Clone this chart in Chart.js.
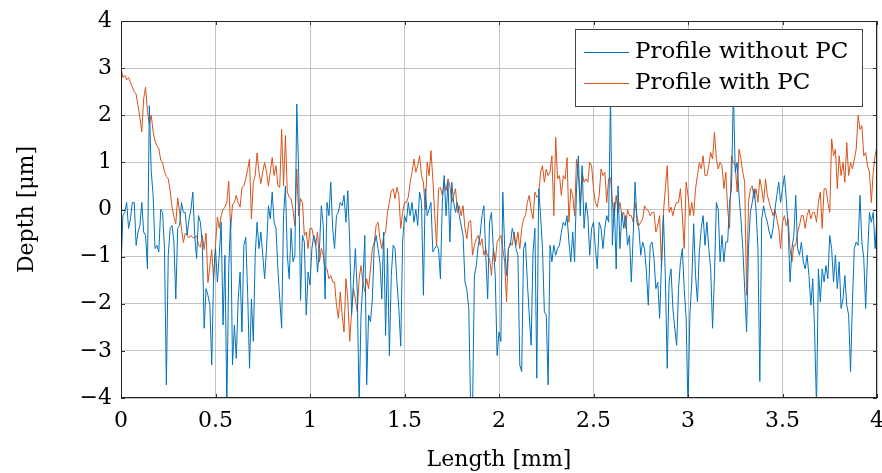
<!DOCTYPE html>
<html>
<head>
<meta charset="utf-8">
<script src="https://cdn.jsdelivr.net/npm/chart.js@4"></script>
<style>
html, body { margin: 0; padding: 0; background: #fff; }
</style>
</head>
<body>
<canvas id="profile_plot" width="882" height="473"></canvas>
<script>
// sampling of the profile along the length axis
var lengthStart = 0;
var lengthStep = 0.01;

// depth [um] without phase correction
var withoutPC = [
    -1.26, -0.13, -0.06, 0.15, -0.4, -0.2, 0.15, 0.15, -0.76, -0.48, -0.34,
    0.15, -0.48, -0.55, -1.26, 2.2, 0.8, 0.3, -0.83, -0.76, -0.9,
    0.0, -0.06, -0.83, -3.72, -0.97, -0.4, -0.34, -0.69, -1.9, -0.4,
    -0.34, 0.15, -0.06, -0.06, -0.55, -0.2, 0.0, 0.37, -0.55, -1.04,
    -0.13, -0.27, -0.7, -2.52, -1.68, -1.82, -2.03, -3.3, -1.4, -0.83,
    -1.54, -0.97, -0.27, -2.45, -0.97, -4.2, -1.26, -0.2, -3.3, -2.45,
    -3.16, -1.9, -1.33, -2.6, -0.76, -0.59, -1.75, -3.37, -1.9, -2.8,
    -0.97, -0.27, -0.83, -0.48, -0.97, -1.47, -0.83, 0.08, -0.2, 0.37,
    -0.27, -0.4, -1.26, -1.9, -2.52, -0.13, 0.5, -0.97, -1.47, -0.4,
    -1.11, -0.97, 2.24, 0.79, -1.93, -0.55, -0.69, -2.24, -1.33, -1.6,
    -0.83, -0.55, -0.69, -1.33, -0.83, 0.08, -0.34, -1.9, 0.15, -0.13,
    0.58, -0.4, -0.83, -0.13, -0.06, 0.15, 0.08, 0.3, -0.27, 0.4,
    -0.69, -2.24, -1.54, -0.83, -1.75, -4.2, -2.24, -1.54, -0.55, -3.72,
    -2.24, -2.38, -1.9, -0.76, -0.55, -0.83, -1.11, -1.9, -0.48, -2.67,
    -0.83, -3.1, -1.4, -0.76, -0.83, -1.54, -2.1, -2.9, -0.69, -0.13,
    -0.27, 0.15, -0.13, 0.15, -0.27, 0.0, -0.34, 0.37, 0.15, -1.82,
    0.44, -0.13, 0.0, 0.15, -0.9, -0.83, -0.76, -0.83, -1.47, 0.15,
    0.72, -0.13, 0.58, -0.69, 0.58, 0.15, -0.06, 0.15, -0.13, -0.34,
    -0.55, -1.54, -1.7, -2.1, -4.2, -4.2, -1.4, -1.19, -0.76, -0.55,
    -0.13, 0.08, -0.97, -1.9, -0.27, -0.06, -0.83, -1.4, -3.1, -2.6,
    -2.8, 0.37, -0.8, -1.4, -0.83, -0.76, -0.4, -0.55, -0.83, -0.97,
    -3.3, -3.44, -0.83, -0.69, -1.54, -2.24, -2.88, -0.9, -0.4, -3.58,
    0.44, -0.13, -0.83, -2.17, -2.24, -3.72, -0.76, -1.11, -0.76, -0.97,
    -0.83, -0.76, -0.48, -0.27, -0.34, -0.13, -0.69, -1.11, -0.48, -1.11,
    0.44, 1.14, -0.13, 0.93, -0.4, 0.15, -0.13, -0.97, -0.4, -0.27,
    -0.83, -1.26, -0.27, -0.4, -0.83, -0.4, -0.13, -0.27, 2.4, -0.76,
    0.15, -1.26, 0.5, -0.83, -0.06, -0.4, -0.13, -0.76, -0.55, -1.54,
    -0.55, 0.58, -0.27, -0.4, -0.97, -0.69, -0.83, -1.33, -2.03, -0.76,
    -0.69, -1.04, -1.68, -1.54, -2.31, -1.11, -0.13, -1.4, -3.37, -1.54,
    -1.26, -2.1, -2.52, -2.88, -1.68, -1.11, -0.83, -1.68, -2.3, -4.2,
    -2.24, -1.54, -0.3, -1.4, -1.96, -0.9, -0.4, -0.13, -0.76, -0.27,
    -0.83, -1.26, -2.52, -1.4, 0.15, 0.0, -1.11, -0.55, -1.11, -0.69,
    -0.69, 0.15, 0.44, 2.5, 0.79, 1.0, 0.3, -0.2, -0.83, -1.68,
    -2.6, -0.83, -0.06, 0.15, 0.44, 0.0, -0.83, -3.65, -0.2, 0.08,
    -0.13, -0.27, -0.48, -0.62, -0.4, 0.0, 0.3, 0.58, 0.15, 0.44,
    0.72, 0.23, -0.4, -1.54, -0.83, -0.55, 0.3, -0.83, -0.97, -0.69,
    -1.11, -1.26, -0.97, -1.4, -2.03, -1.47, -2.6, -4.2, -1.26, -1.96,
    -1.26, -1.54, -1.19, -1.47, -0.55, -0.83, -1.54, -0.97, -1.68, -1.11,
    -2.1, -1.9, -1.4, -2.03, -2.24, -3.44, -1.96, -0.83, -0.69, -0.76,
    0.3, -0.69, -1.04, -2.1, -0.97, -0.06, -0.27, -0.06, -0.83, -0.13
];

// depth [um] with phase correction
var withPC = [
    3.0, 2.8, 2.85, 2.75, 2.8, 2.7, 2.6, 2.5, 2.45, 2.2, 1.95,
    1.65, 2.35, 2.6, 2.1, 1.8, 2.0, 1.65, 1.45, 1.35, 1.3,
    1.05, 1.0, 0.8, 0.7, 0.65, 0.4, 0.05, -0.15, -0.3, 0.25,
    -0.05, -0.4, -0.7, -0.5, -0.55, -0.6, -0.55, -0.6, -0.6, -0.55,
    -0.75, -0.8, -0.55, -0.85, -0.5, -1.55, -1.2, -0.85, -1.5, -0.75,
    -0.16, -0.4, -0.13, 0.0, 0.05, 0.15, 0.6, -0.4, 0.1, 0.15,
    0.3, 0.15, 0.05, 0.47, 0.5, 0.65, 0.85, 1.07, -0.2, 0.58,
    0.72, 1.2, 0.8, 0.55, 0.8, 1.0, 0.8, 0.5, 0.8, 1.1,
    0.72, 0.93, 0.5, 0.47, 1.7, 0.5, 1.57, 0.37, 0.26, 0.23,
    0.0, -0.34, 0.86, -0.13, 0.23, 0.15, -0.55, -0.48, -0.83, -0.4,
    -0.4, -0.62, -0.76, -0.48, -1.11, -0.83, -0.97, -1.26, -1.26, -1.47,
    -1.4, -1.54, -1.54, -2.03, -2.31, -1.75, -2.24, -2.6, -1.47, -1.9,
    -2.8, -2.17, -1.68, -1.9, -2.17, -1.47, -1.19, -1.54, -1.75, -1.47,
    -1.68, -1.26, -0.83, -0.7, -0.34, -0.27, -0.62, -0.83, -0.55, -0.48,
    -0.06, 0.15, 0.4, 0.44, 0.23, 0.47, 0.3, -0.4, -0.06, 0.15,
    0.15, 0.26, 0.58, 0.79, 1.07, 0.79, 0.93, 1.14, 0.72, 0.58,
    0.0, 1.0, 0.72, 1.25, 0.65, -0.13, -0.76, 0.44, 0.47, 0.3,
    0.58, 0.4, 0.65, 0.5, 0.15, 0.3, 0.44, -0.06, 0.08, -0.13,
    0.08, -0.4, -0.62, -0.27, -0.23, -0.97, -0.76, -0.62, -0.55, -0.76,
    -0.62, -0.97, -0.83, -1.0, -1.04, -1.4, -0.83, -1.11, -0.7, -0.62,
    -0.55, -0.83, -1.11, -1.96, -0.83, -0.7, -0.76, -0.48, -0.76, -0.48,
    -0.83, -0.4, -0.2, -0.13, 0.15, 0.3, 0.0, -0.2, 0.37, 0.26,
    0.3, 0.79, 0.93, 0.58, 0.86, 0.72, 0.79, 1.14, -0.13, 1.53,
    0.65, 0.72, 0.3, 0.72, 0.65, 1.1, -0.27, 0.44, 0.3, -0.13,
    1.07, 0.72, 0.15, 0.79, 0.58, 0.65, 0.58, 1.0, 0.93, 0.44,
    0.15, 0.05, 0.3, 0.86, 0.72, 0.79, 0.15, 0.65, 0.68, 0.15,
    -0.13, 0.3, -0.06, 0.15, -0.13, -0.06, -0.4, 0.0, -0.13, -0.13,
    -0.27, 0.15, -0.13, -0.34, -0.27, -0.2, 0.08, 0.0, -0.02, -0.13,
    -0.06, -0.06, -0.48, -0.34, -0.13, -1.26, -0.06, 0.44, 0.93, -0.06,
    0.05, -0.13, 0.05, 0.15, 0.15, 0.44, -0.13, -0.83, 0.58, 0.3,
    -0.13, 0.15, -0.13, 0.44, 0.72, 1.0, 0.86, 1.14, 0.72, 0.72,
    0.93, 1.21, 1.07, 1.64, 1.07, 0.86, 1.0, 0.93, 0.44, 0.79,
    0.0, -0.4, 1.14, 1.0, 0.93, 0.37, 1.28, 1.07, 0.79, 0.58,
    -1.82, 0.15, 0.44, 0.5, 0.23, 0.44, 0.15, 0.65, 0.44, 0.15,
    0.65, 0.3, 0.15, 0.0, -0.13, 0.0, -0.2, -0.4, -0.83, -0.27,
    -0.13, -0.34, -0.2, -0.83, -1.11, -0.76, -0.76, -0.48, -0.34, -0.13,
    -0.13, -0.4, -0.13, 0.0, -0.2, -0.06, -0.06, -0.27, 0.15, 0.37,
    -0.4, 0.44, 0.44, 0.15, -0.06, 1.5, 1.14, 1.28, 0.44, 1.14,
    0.72, 1.0, 0.58, 1.42, 0.72, 1.0, 0.86, 1.07, 1.28, 2.0,
    1.7, 1.78, 1.14, 1.21, 0.93, 0.79, 0.15, 0.79, 1.14, 1.35
];

var seriesLabels = ["Profile without PC", "Profile with PC"];
var seriesColors = ["#0072bd", "#d95319"];

var xTicks = [0, 0.5, 1, 1.5, 2, 2.5, 3, 3.5, 4];
var xTickLabels = ["0", "0.5", "1", "1.5", "2", "2.5", "3", "3.5", "4"];
var yTicks = [-4, -3, -2, -1, 0, 1, 2, 3, 4];
var yTickLabels = ["\u22124", "\u22123", "\u22122", "\u22121", "0", "1", "2", "3", "4"];

var fontFamily = "'DejaVu Serif', 'Liberation Serif', serif";
var fontSize = 22;
var legendFontSize = 23;

function toPoints(values) {
    return values.map(function (v, i) {
        return { x: lengthStart + i * lengthStep, y: v };
    });
}

// frame, inward tick marks and the boxed legend (pgfplots look)
var frameAndLegend = {
    id: "frameAndLegend",
    afterDatasetsDraw: function (chart) {
        var ctx = chart.ctx;
        var a = chart.chartArea;
        var xs = chart.scales.x, ys = chart.scales.y;
        ctx.save();
        ctx.strokeStyle = "#333";
        ctx.lineWidth = 1;
        ctx.beginPath();
        xTicks.forEach(function (v) {
            var px = Math.round(xs.getPixelForValue(v)) + 0.5;
            ctx.moveTo(px, a.bottom); ctx.lineTo(px, a.bottom - 4);
            ctx.moveTo(px, a.top); ctx.lineTo(px, a.top + 4);
        });
        yTicks.forEach(function (v) {
            var py = Math.round(ys.getPixelForValue(v)) + 0.5;
            ctx.moveTo(a.left, py); ctx.lineTo(a.left + 4, py);
            ctx.moveTo(a.right, py); ctx.lineTo(a.right - 4, py);
        });
        ctx.stroke();
        ctx.strokeStyle = "#222";
        ctx.strokeRect(Math.round(a.left) + 0.5, Math.round(a.top) + 0.5,
            Math.round(a.right - a.left) - 1, Math.round(a.bottom - a.top) - 1);

        // legend
        ctx.font = legendFontSize + "px " + fontFamily;
        var textW = 0;
        seriesLabels.forEach(function (t) { textW = Math.max(textW, ctx.measureText(t).width); });
        var padL = 9, sample = 45, gap = 6, padR = 14, rowH = 31;
        var boxW = Math.round(padL + sample + gap + textW + padR);
        var boxH = 77;
        var right = Math.round(a.right) - 15;
        var left = right - boxW;
        var top = Math.round(a.top) + 8;
        ctx.fillStyle = "#fff";
        ctx.fillRect(left, top, boxW, boxH);
        ctx.strokeStyle = "#444";
        ctx.strokeRect(left + 0.5, top + 0.5, boxW, boxH);
        ctx.textBaseline = "middle";
        ctx.textAlign = "left";
        seriesLabels.forEach(function (t, i) {
            var cy = top + 23 + i * rowH;
            ctx.strokeStyle = seriesColors[i];
            ctx.beginPath();
            ctx.moveTo(left + padL, cy + 0.5);
            ctx.lineTo(left + padL + sample, cy + 0.5);
            ctx.stroke();
            ctx.fillStyle = "#000";
            ctx.fillText(t, left + padL + sample + gap, cy);
        });
        ctx.restore();
    }
};

new Chart(document.getElementById("profile_plot"), {
    type: "line",
    data: {
        datasets: [
            {
                label: seriesLabels[0],
                data: toPoints(withoutPC),
                borderColor: seriesColors[0],
                borderWidth: 1,
                pointRadius: 0,
                fill: false,
                clip: 0
            },
            {
                label: seriesLabels[1],
                data: toPoints(withPC),
                borderColor: seriesColors[1],
                borderWidth: 1,
                pointRadius: 0,
                fill: false,
                clip: 0
            }
        ]
    },
    options: {
        responsive: false,
        animation: false,
        devicePixelRatio: 1,
        layout: { padding: { left: 0, right: 5, top: 21, bottom: 0 } },
        plugins: {
            legend: { display: false },
            tooltip: { enabled: false }
        },
        scales: {
            x: {
                type: "linear",
                min: 0,
                max: 4,
                afterBuildTicks: function (s) { s.ticks = xTicks.map(function (v) { return { value: v }; }); },
                afterFit: function (s) { s.height = 75; s.paddingLeft = 0; s.paddingRight = 0; },
                grid: { color: "#c4c4c4", drawTicks: false },
                border: { display: false },
                ticks: {
                    padding: 10,
                    color: "#000",
                    font: { family: fontFamily, size: fontSize },
                    maxRotation: 0,
                    callback: function (v, i) { return xTickLabels[i]; }
                },
                title: {
                    display: true,
                    text: "Length [mm]",
                    color: "#000",
                    font: { family: fontFamily, size: fontSize },
                    padding: { top: 0, bottom: 0 }
                }
            },
            y: {
                type: "linear",
                min: -4,
                max: 4,
                afterBuildTicks: function (s) { s.ticks = yTicks.map(function (v) { return { value: v }; }); },
                afterFit: function (s) { s.width = 121; s.paddingTop = 0; s.paddingBottom = 0; },
                grid: { color: "#c4c4c4", drawTicks: false },
                border: { display: false },
                ticks: {
                    padding: 9,
                    color: "#000",
                    font: { family: fontFamily, size: fontSize },
                    callback: function (v, i) { return yTickLabels[i]; }
                },
                title: {
                    display: true,
                    text: "Depth [\u03bcm]",
                    color: "#000",
                    font: { family: fontFamily, size: fontSize },
                    padding: { top: 14, bottom: 0 }
                }
            }
        }
    },
    plugins: [frameAndLegend]
});
</script>
</body>
</html>
